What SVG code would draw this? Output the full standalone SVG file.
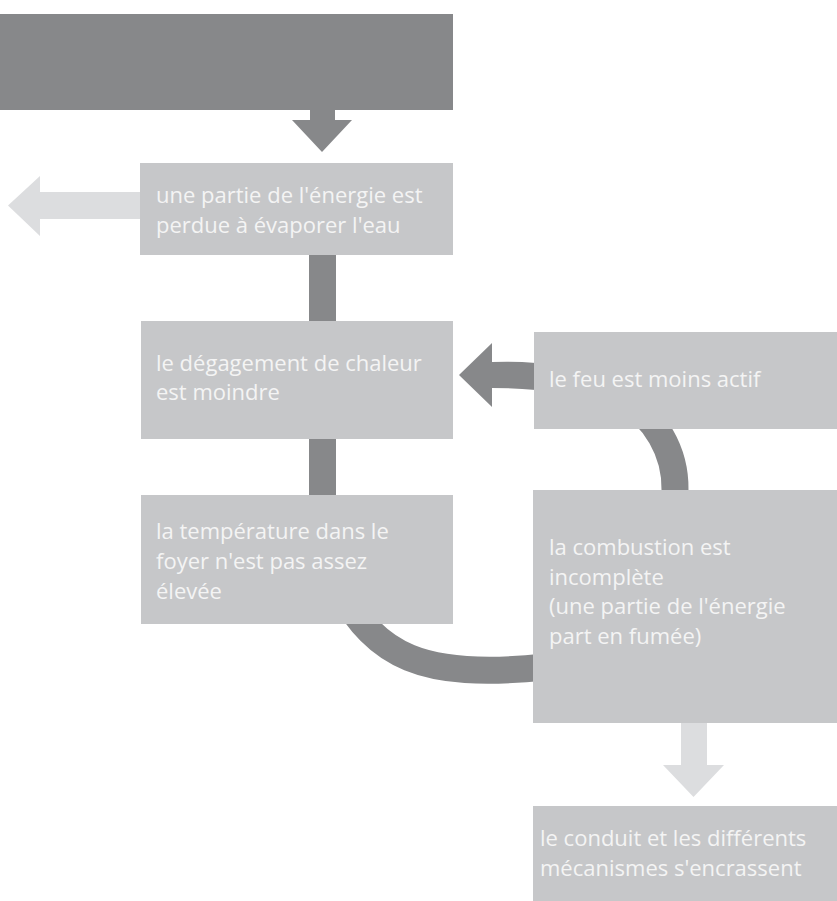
<svg xmlns="http://www.w3.org/2000/svg" width="837" height="901" viewBox="0 0 837 901">
<style>
.box{fill:#c6c7c9}
.dark{fill:#87888a}
.light{fill:#dcdddf}
.band{fill:none;stroke:#87888a;stroke-width:27}
text{font-family:"Open Sans","Liberation Sans",sans-serif;font-size:22px;fill:#f4f4f4}
</style>
<rect width="837" height="901" fill="#ffffff"/>
<g id="connectors">
<path class="dark" d="M310 108 H335 V120 H352 L322 152 L292 120 H310 Z"/>
<path class="light" d="M142 192 V219 H40 V236 L8 205.5 L40 176 V192 Z"/>
<rect class="dark" x="309" y="253" width="27" height="70"/>
<rect class="dark" x="309" y="437" width="27" height="60"/>
<path class="dark" d="M536 363 Q515 361 492 362 V343 L459 375 L492 407 V388 Q515 388 536 390 Z"/>
<path class="band" d="M622 398 A103 103 0 0 1 675 490 V500"/>
<path class="band" d="M340 590 C377 655 420 680 545 667"/>
<path class="light" d="M681 720 H707 V765 H724 L693.5 797 L663 765 H681 Z"/>
</g>
<g id="top"><rect class="dark" x="0" y="14" width="453" height="96"/></g>
<g id="n1"><rect class="box" x="140" y="163" width="313" height="92"/>
<text x="156" y="203">une partie de l'énergie est</text>
<text x="156" y="232.5">perdue à évaporer l'eau</text></g>
<g id="n2"><rect class="box" x="141" y="321" width="312" height="118"/>
<text x="156" y="370.5">le dégagement de chaleur</text>
<text x="156" y="400">est moindre</text></g>
<g id="n3"><rect class="box" x="141" y="495" width="312" height="129"/>
<text x="156" y="539">la température dans le</text>
<text x="156" y="569">foyer n'est pas assez</text>
<text x="156" y="598.5">élevée</text></g>
<g id="n4"><rect class="box" x="534" y="332" width="303" height="97"/>
<text x="549" y="387">le feu est moins actif</text></g>
<g id="n5"><rect class="box" x="533" y="490" width="304" height="233"/>
<text x="549" y="555">la combustion est</text>
<text x="549" y="584.5">incomplète</text>
<text x="549" y="614">(une partie de l'énergie</text>
<text x="549" y="643.5">part en fumée)</text></g>
<g id="n6"><rect class="box" x="533" y="806" width="304" height="95"/>
<text x="540" y="846">le conduit et les différents</text>
<text x="540" y="875.5">mécanismes s'encrassent</text></g>
</svg>
